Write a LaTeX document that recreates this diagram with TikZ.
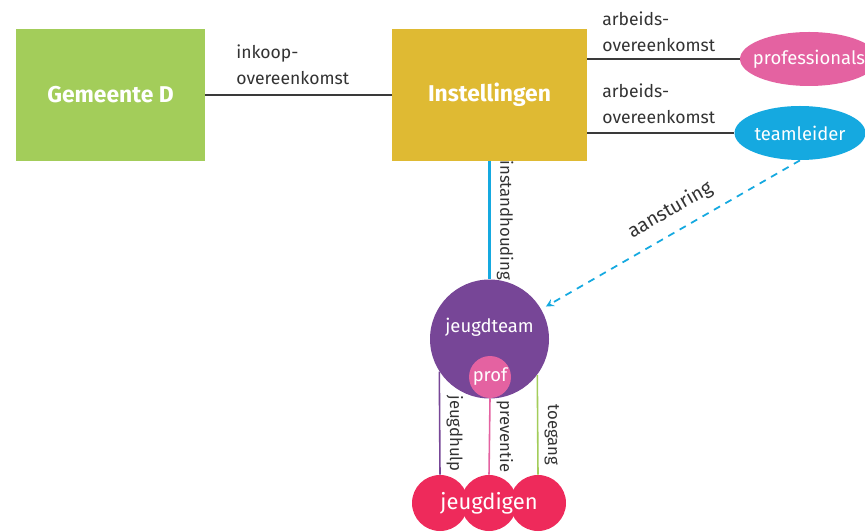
\documentclass[tikz,border=0pt]{standalone}
\usepackage{fontspec}
\setmainfont{Fira Sans}
\usepackage{tikz}
\usetikzlibrary{positioning,arrows.meta,shapes}
\usepackage{xcolor}

\definecolor{gemgreen}{HTML}{A3CD5A}
\definecolor{instgold}{HTML}{DFBA33}
\definecolor{profpink}{HTML}{E462A1}
\definecolor{tlblue}{HTML}{15A9E0}
\definecolor{teampurple}{HTML}{774697}
\definecolor{jgdred}{HTML}{EE2A5B}
\definecolor{txtgrey}{HTML}{333333}
\definecolor{linegrey}{HTML}{3A3A3A}

\begin{document}
\begin{tikzpicture}[
        box/.style={draw=none, fill=#1, text=white, minimum height=2.64cm, font=\fontsize{13}{15}\selectfont\bfseries},
        oval/.style={ellipse, draw=none, fill=#1, minimum height=1.08cm, inner sep=0pt},
        ball/.style={circle, draw=none, fill=#1, inner sep=0pt},
        inlbl/.style={text=white, font=\fontsize{10.5}{12}\selectfont},
        lbl/.style={text=txtgrey, align=left, inner sep=0pt, font=\fontsize{10}{14.5}\selectfont},
        sidelbl/.style={text=txtgrey, rotate=-90, anchor=south, inner sep=3.5pt, font=\fontsize{9.5}{11}\selectfont},
        conn/.style={draw=linegrey, line width=1.1pt}
    ]
        \useasboundingbox (0,0) rectangle (17.3,10.62);

        % Main boxes
        \node[box=gemgreen, minimum width=3.78cm] (gem) at (2.21,8.72) {Gemeente D};
        \node[box=instgold, minimum width=3.90cm] (inst) at (9.79,8.72) {Instellingen};

        % People
        \node[oval=profpink, minimum width=2.76cm, label={[inlbl]center:professionals}] (pros) at (16.18,9.44) {};
        \node[oval=tlblue, minimum width=2.62cm, label={[inlbl]center:teamleider}] (tl) at (16.0,7.96) {};

        % Team
        \node[ball=teampurple, minimum size=2.38cm, label={[inlbl, yshift=0.24cm]center:jeugdteam}] (team) at (9.79,3.84) {};
        \node[ball=profpink, minimum size=0.84cm, label={[inlbl]center:prof}] (prof) at (9.80,3.08) {};

        % Youth
        \node[ball=jgdred, minimum size=1.12cm] (jl) at (8.80,0.56) {};
        \node[ball=jgdred, minimum size=1.12cm] (jr) at (10.76,0.56) {};
        \node[ball=jgdred, minimum size=1.12cm, label={[inlbl, font=\fontsize{12.5}{14}\selectfont]center:jeugdigen}] (jm) at (9.78,0.56) {};

        % Agreements
        \draw[conn] (gem.east) -- (inst.west);
        \node[lbl, anchor=south west] (inkoop) at (4.72,8.92) {inkoop-\\overeenkomst};

        \draw[conn] (pros.west -| inst.east) -- (pros.west);
        \node[lbl, anchor=south west] (arb1) at (12.04,9.58) {arbeids-\\overeenkomst};

        \draw[conn] (tl.west -| inst.east) -- (tl.west);
        \node[lbl, anchor=south west] (arb2) at (12.04,8.14) {arbeids-\\overeenkomst};

        % Team links
        \draw[tlblue, line width=1.2pt] (inst.south) -- node[sidelbl] {instandhouding} (team.north);
        \draw[tlblue, line width=1pt, dash pattern=on 4pt off 3.5pt, ->, >=stealth, shorten >=3pt]
            (tl.south) -- node[pos=0.46, above=3pt, sloped, text=txtgrey, font=\fontsize{11}{13}\selectfont] {aansturing} (team);

        \draw[teampurple, line width=0.9pt] (team.213.7) -- node[sidelbl, pos=0.6] {jeugdhulp} (jl.north);
        \draw[profpink, line width=0.9pt] (prof.south) -- node[sidelbl, pos=0.5] {preventie} (jm.north);
        \draw[gemgreen, line width=0.9pt] (team.-37) -- node[sidelbl, pos=0.6] {toegang} (jr.north);
    \end{tikzpicture}
\end{document}
